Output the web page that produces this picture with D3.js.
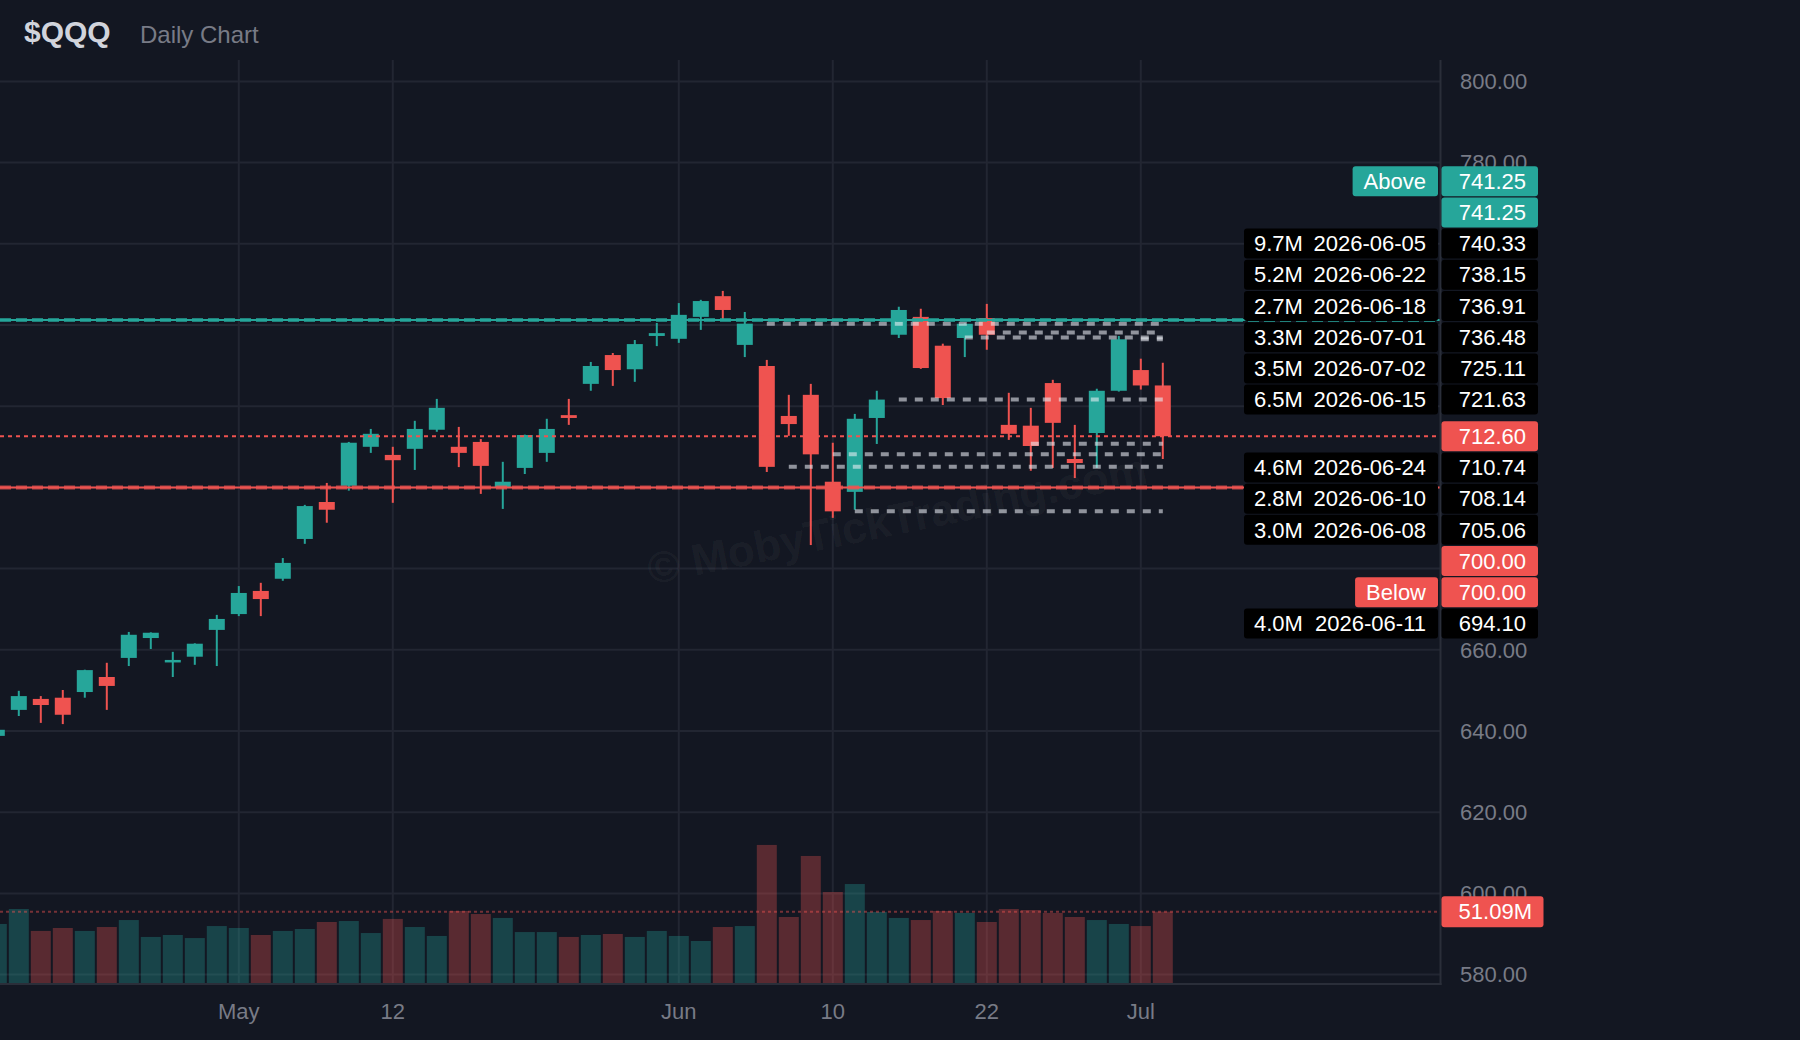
<!DOCTYPE html>
<html><head><meta charset="utf-8">
<script src="https://cdn.jsdelivr.net/npm/d3@7"></script>
<style>
html,body{margin:0;padding:0;background:#131722;}
svg{display:block;}
text{font-family:"Liberation Sans",Arial,Helvetica,sans-serif;}
</style></head><body>
<svg id="chart" width="1800" height="1040"></svg>
<script>
// ---------------- DATA ----------------
const dates = ["2026-04-16","2026-04-17","2026-04-20","2026-04-21","2026-04-22","2026-04-23","2026-04-24","2026-04-27","2026-04-28","2026-04-29","2026-04-30",
"2026-05-01","2026-05-04","2026-05-05","2026-05-06","2026-05-07","2026-05-08","2026-05-11","2026-05-12","2026-05-13","2026-05-14","2026-05-15","2026-05-18","2026-05-19","2026-05-20","2026-05-21","2026-05-22","2026-05-26","2026-05-27","2026-05-28","2026-05-29",
"2026-06-01","2026-06-02","2026-06-03","2026-06-04","2026-06-05","2026-06-08","2026-06-09","2026-06-10","2026-06-11","2026-06-12","2026-06-15","2026-06-16","2026-06-17","2026-06-18","2026-06-22","2026-06-23","2026-06-24","2026-06-25","2026-06-26","2026-06-29","2026-06-30",
"2026-07-01","2026-07-02"];
const opens  = [638.8,645.2,647.9,648.2,649.6,653.3,658.0,662.9,656.9,658.3,664.9,668.8,674.5,677.5,687.3,696.4,700.4,710.0,708.0,709.5,714.2,710.0,711.2,700.1,704.8,708.5,717.8,725.5,732.6,729.1,737.3,736.6,742.0,747.1,735.1,729.9,717.6,722.8,701.4,698.9,717.1,737.6,742.0,734.9,736.8,741.7,715.4,715.2,725.7,707.0,713.4,723.8,728.9,725.11];
const highs  = [641.0,649.9,648.6,650.1,655.1,656.8,664.4,664.3,659.5,661.6,668.6,675.7,676.5,682.6,695.7,701.1,711.2,714.4,710.0,716.4,721.8,714.9,711.9,706.3,713.0,716.9,721.8,730.9,733.1,736.3,740.5,745.4,746.2,748.4,743.2,731.4,722.8,725.5,711.0,718.1,723.8,744.5,744.0,735.4,740.4,745.2,723.3,719.6,726.5,715.4,724.3,737.3,731.7,730.7];
const lows   = [637.8,643.7,642.0,641.7,648.2,645.2,656.0,660.2,653.3,656.3,656.0,668.3,668.3,677.0,686.1,691.3,699.2,708.5,696.2,704.3,713.7,705.0,698.4,694.7,703.3,706.3,715.4,723.8,725.0,726.0,734.8,735.6,738.8,741.3,732.1,703.8,712.7,685.8,692.5,694.5,710.7,736.8,729.2,720.3,732.1,733.9,711.7,704.1,704.8,702.3,704.8,723.6,724.1,707.0];
const closes = [640.3,648.6,646.4,644.0,655.0,651.1,663.7,664.2,657.5,661.5,667.6,674.0,672.5,681.4,695.4,694.5,711.0,713.2,706.7,714.4,719.6,708.5,705.3,701.4,712.9,714.4,717.1,729.9,728.9,735.3,738.0,742.5,745.9,743.7,740.33,705.06,715.6,708.14,694.10,716.9,721.63,743.7,729.4,722.0,740.3,737.6,713.2,710.2,715.9,706.0,723.8,736.48,725.11,712.60];
const volumes = [42.3,53.0,37.3,39.4,37.3,40.1,45.1,33.0,34.4,32.2,40.8,39.4,34.4,37.3,38.7,43.7,44.4,35.8,45.9,40.1,33.7,51.6,49.4,46.6,36.5,36.5,33.0,34.4,35.1,33.0,37.3,33.7,30.1,40.1,40.8,98.9,47.3,91.0,65.2,70.9,50.9,46.6,45.1,51.6,50.2,43.7,53.0,52.3,50.2,47.3,45.1,42.3,40.8,51.09];

const priceTicks = [580,600,620,640,660,680,700,720,740,760,780,800];
const timeTickDates  = ["2026-05-01","2026-05-12","2026-06-01","2026-06-10","2026-06-22","2026-07-01"];
const timeTickLabels = ["May","12","Jun","10","22","Jul"];

const levelPrices = [740.33,738.15,736.91,736.48,725.11,721.63,710.74,708.14,705.06,694.10];
const levelDates  = ["2026-06-05","2026-06-22","2026-06-18","2026-07-01","2026-07-02","2026-06-15","2026-06-24","2026-06-10","2026-06-08","2026-06-11"];
const levelVols   = ["9.7M","5.2M","2.7M","3.3M","3.5M","6.5M","4.6M","2.8M","3.0M","4.0M"];

const abovePrice = 741.25, belowPrice = 700.00, lastPrice = 712.60, lastVolume = 51.09;
const titleText = "$QQQ", subtitleText = "Daily Chart", watermarkText = "© MobyTickTrading.com";

// ---------------- LAYOUT ----------------
const UP = "#26a69a", DOWN = "#ef5350", BG = "#131722";
const plot = {left:0, right:1440, top:60, bottom:984};
const svg = d3.select("#chart");
svg.append("rect").attr("width",1800).attr("height",1040).attr("fill",BG);

const x  = d3.scaleLinear().domain([0, 65.6]).range([-3.2, 1440]);
const y  = d3.scaleLinear().domain([580, 800]).range([974.6, 81.4]);
const yv = d3.scaleLinear().domain([0, 100]).range([983, 843.4]);
const idx = d => dates.indexOf(d);

const candles = dates.map((d,i)=>({d,i,o:opens[i],h:highs[i],l:lows[i],c:closes[i],v:volumes[i]}));

svg.append("defs").append("clipPath").attr("id","clip")
  .append("rect").attr("x",plot.left).attr("y",plot.top)
  .attr("width",plot.right-plot.left).attr("height",plot.bottom-plot.top);

const g = svg.append("g").attr("clip-path","url(#clip)");

// grid
g.selectAll(".hg").data(priceTicks).join("line")
  .attr("x1",plot.left).attr("x2",plot.right)
  .attr("y1",d=>y(d)).attr("y2",d=>y(d))
  .attr("stroke","#222632").attr("stroke-width",2);
g.selectAll(".vg").data(timeTickDates).join("line")
  .attr("x1",d=>x(idx(d))).attr("x2",d=>x(idx(d)))
  .attr("y1",plot.top).attr("y2",plot.bottom)
  .attr("stroke","#222632").attr("stroke-width",2);

// volume bars
g.selectAll(".vol").data(candles).join("rect")
  .attr("x",d=>x(d.i)-10).attr("width",20)
  .attr("y",d=>yv(d.v)).attr("height",d=>yv(0)-yv(d.v))
  .attr("fill",d=>d.c>=d.o ? "rgba(38,166,154,0.32)" : "rgba(239,83,80,0.32)");

// volume last line
g.append("line").attr("x1",plot.left).attr("x2",plot.right)
  .attr("y1",yv(lastVolume)).attr("y2",yv(lastVolume))
  .attr("stroke","rgba(239,83,80,0.45)").attr("stroke-width",2).attr("stroke-dasharray","3,3");

// watermark
g.append("text").text(watermarkText)
  .attr("transform","translate(900,534) rotate(-11.5)")
  .attr("text-anchor","middle").attr("font-size",44).attr("font-weight","bold")
  .attr("fill","rgba(255,255,255,0.05)");

// candles
const cg = g.selectAll(".candle").data(candles).join("g");
cg.append("line")
  .attr("x1",d=>x(d.i)).attr("x2",d=>x(d.i))
  .attr("y1",d=>y(d.h)).attr("y2",d=>y(d.l))
  .attr("stroke",d=>d.c>=d.o?UP:DOWN).attr("stroke-width",2);
cg.append("rect")
  .attr("x",d=>x(d.i)-8).attr("width",16)
  .attr("y",d=>y(Math.max(d.o,d.c)))
  .attr("height",d=>Math.max(2.5, Math.abs(y(d.o)-y(d.c))))
  .attr("fill",d=>d.c>=d.o?UP:DOWN);

// grey level lines
const lastIdx = dates.length-1;
g.selectAll(".lvl").data(levelPrices).join("line")
  .attr("x1",(p,k)=>x(idx(levelDates[k]))).attr("x2",x(lastIdx))
  .attr("y1",p=>y(p)).attr("y2",p=>y(p))
  .attr("stroke","rgba(235,238,245,0.58)").attr("stroke-width",4).attr("stroke-dasharray","8,8");

// above / below alert lines
function alertLine(p,color){
  g.append("line").attr("x1",plot.left).attr("x2",plot.right).attr("y1",y(p)).attr("y2",y(p))
    .attr("stroke",color).attr("stroke-width",2);
  g.append("line").attr("x1",plot.left).attr("x2",plot.right).attr("y1",y(p)).attr("y2",y(p))
    .attr("stroke",color).attr("stroke-opacity",0.75).attr("stroke-width",4).attr("stroke-dasharray","11,5");
}
alertLine(abovePrice, UP);
alertLine(belowPrice, DOWN);

// last price line
g.append("line").attr("x1",plot.left).attr("x2",plot.right)
  .attr("y1",y(lastPrice)).attr("y2",y(lastPrice))
  .attr("stroke",DOWN).attr("stroke-width",2).attr("stroke-dasharray","4,4");

// axis borders
svg.append("line").attr("x1",1440.5).attr("x2",1440.5).attr("y1",plot.top).attr("y2",plot.bottom+1)
  .attr("stroke","#2a2e39").attr("stroke-width",2);
svg.append("line").attr("x1",0).attr("x2",1441.5).attr("y1",plot.bottom).attr("y2",plot.bottom)
  .attr("stroke","#2a2e39").attr("stroke-width",2);

// ---------------- PRICE LABEL COLUMN LAYOUT ----------------
let labels = [
  {price:abovePrice, tag:"Above", color:UP},
  {price:abovePrice, color:UP},
  ...levelPrices.map((p,k)=>({price:p, vol:levelVols[k], date:levelDates[k], color:"#000000"})),
  {price:lastPrice, color:DOWN, anchor:true},
  {price:belowPrice, color:DOWN},
  {price:belowPrice, tag:"Below", color:DOWN}
];
labels.sort((a,b)=>b.price-a.price);
const rowH = 31.2, boxH = 30;
const a = labels.findIndex(l=>l.anchor);
labels[a].cy = y(labels[a].price);
for(let k=a-1;k>=0;k--) labels[k].cy = Math.min(y(labels[k].price), labels[k+1].cy-rowH);
for(let k=a+1;k<labels.length;k++) labels[k].cy = Math.max(y(labels[k].price), labels[k-1].cy+rowH);

// price axis labels (those sitting under a badge are hidden, as on the reference)
const vy = yv(lastVolume);
const covered = t => labels.some(l=>Math.abs(l.cy - y(t)) < boxH/2) || Math.abs(vy - y(t)) < 15.5;
svg.selectAll(".yl").data(priceTicks.filter(t=>!covered(t))).join("text")
  .attr("x",1460).attr("y",d=>y(d)).attr("dy","0.35em")
  .attr("font-size",22).attr("fill","#787b86").text(d=>d.toFixed(2));

// time axis labels
svg.selectAll(".xl").data(timeTickDates).join("text")
  .attr("x",d=>x(idx(d))).attr("y",1019).attr("text-anchor","middle")
  .attr("font-size",22).attr("fill","#787b86").text((d,k)=>timeTickLabels[k]);

// title
svg.append("text").attr("x",24).attr("y",42).attr("font-size",30).attr("font-weight","bold")
  .attr("fill","#d1d4dc").text(titleText);
svg.append("text").attr("x",140).attr("y",43).attr("font-size",24)
  .attr("fill","#787b86").text(subtitleText);

const lg = svg.append("g");
labels.forEach(l=>{
  const top = l.cy - boxH/2;
  if(l.vol){
    lg.append("rect").attr("x",1244).attr("y",top).attr("width",194).attr("height",boxH).attr("rx",3).attr("fill","#000");
    lg.append("text").attr("x",1254).attr("y",l.cy).attr("dy","0.35em").attr("font-size",22).attr("fill","#fff").text(l.vol);
    lg.append("text").attr("x",1426).attr("y",l.cy).attr("dy","0.35em").attr("text-anchor","end").attr("font-size",22).attr("fill","#fff").text(l.date);
  }
  if(l.tag){
    const r = lg.append("rect").attr("y",top).attr("height",boxH).attr("rx",3).attr("fill",l.color);
    const t = lg.append("text").attr("x",1426).attr("y",l.cy).attr("dy","0.35em").attr("text-anchor","end")
      .attr("font-size",22).attr("fill","#fff").text(l.tag);
    const w = t.node().getComputedTextLength();
    r.attr("x",1426-w-11).attr("width",w+23);
  }
  lg.append("rect").attr("x",1441.5).attr("y",top).attr("width",96.5).attr("height",boxH).attr("rx",3).attr("fill",l.color);
  lg.append("text").attr("x",1526).attr("y",l.cy).attr("dy","0.35em").attr("text-anchor","end")
    .attr("font-size",22).attr("fill","#fff").text(l.price.toFixed(2));
});

// volume badge
lg.append("rect").attr("x",1441.5).attr("y",vy-15.5).attr("width",102).attr("height",31).attr("rx",3).attr("fill",DOWN);
lg.append("text").attr("x",1532).attr("y",vy).attr("dy","0.35em").attr("text-anchor","end")
  .attr("font-size",22).attr("fill","#fff").text(lastVolume.toFixed(2)+"M");
</script>
</body></html>
